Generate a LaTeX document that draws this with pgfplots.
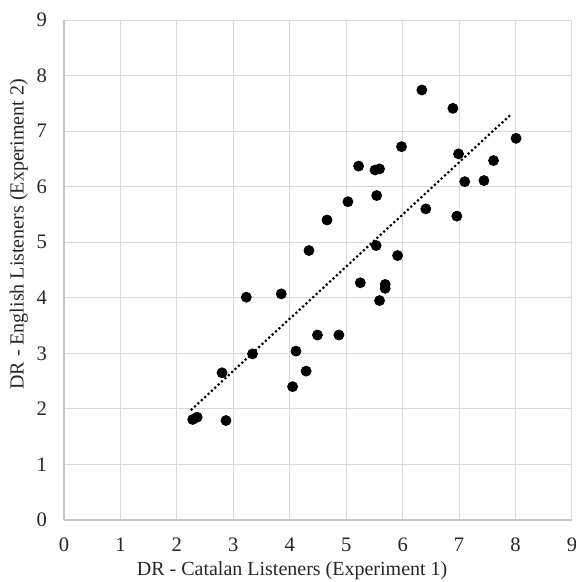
\documentclass[border=0pt]{standalone}
\usepackage{fontspec}
\setmainfont{Liberation Serif}
\usepackage{pgfplots}
\pgfplotsset{compat=1.18}

\begin{document}
\begin{tikzpicture}
\begin{axis}[
  scale only axis, width=254pt, height=250pt,
  xmin=0, xmax=9, ymin=0, ymax=9,
  xtick={0,...,9}, ytick={0,...,9},
  grid=major, grid style={gray!30, line width=0.5pt},
  axis line style={gray!45, line width=0.6pt},
  axis x line*=bottom, axis y line*=left,
  major tick length=0pt,
  tick label style={font=\fontsize{10.3}{12}\selectfont, text=black!85},
  /pgf/number format/assume math mode=true,
  xticklabel style={yshift=-5.5pt},
  yticklabel style={xshift=-5pt},
  label style={font=\fontsize{10}{12}\selectfont, text=black!85},
  xlabel={DR - Catalan Listeners (Experiment 1)},
  ylabel={DR - English Listeners (Experiment 2)},
  xlabel style={at={(axis description cs:0.449,0)}, anchor=north, yshift=-17.5pt},
  ylabel style={at={(axis description cs:0,0.571)}, anchor=south, yshift=14.5pt},
  clip=false,
]
\addplot[only marks, mark=*, mark size=2.5pt, black] coordinates {
(6.34,7.74) (6.89,7.41) (8.01,6.87) (5.98,6.72) (6.99,6.59) (7.61,6.47)
(5.22,6.37) (5.51,6.30) (5.59,6.32) (7.10,6.09) (7.44,6.11) (5.54,5.84)
(5.03,5.73) (6.41,5.60) (4.66,5.40) (6.96,5.47) (5.53,4.94) (4.34,4.85)
(5.91,4.76) (5.25,4.27) (5.69,4.24) (5.69,4.17) (5.59,3.95) (3.23,4.01)
(3.85,4.07) (4.49,3.33) (4.87,3.33) (4.11,3.04) (3.34,2.99) (4.29,2.68)
(2.80,2.65) (4.05,2.40) (2.28,1.81) (2.36,1.85) (2.87,1.79)
};
\addplot[black, line width=1.5pt, line cap=round, dash pattern=on 0pt off 2.3pt] coordinates {
(2.26,1.99) (7.94,7.32)
};
\end{axis}
\pgfresetboundingbox
\path ([xshift=-32pt,yshift=-31pt]current axis.south west) rectangle ([xshift=2pt,yshift=10pt]current axis.north east);
\end{tikzpicture}
\end{document}
